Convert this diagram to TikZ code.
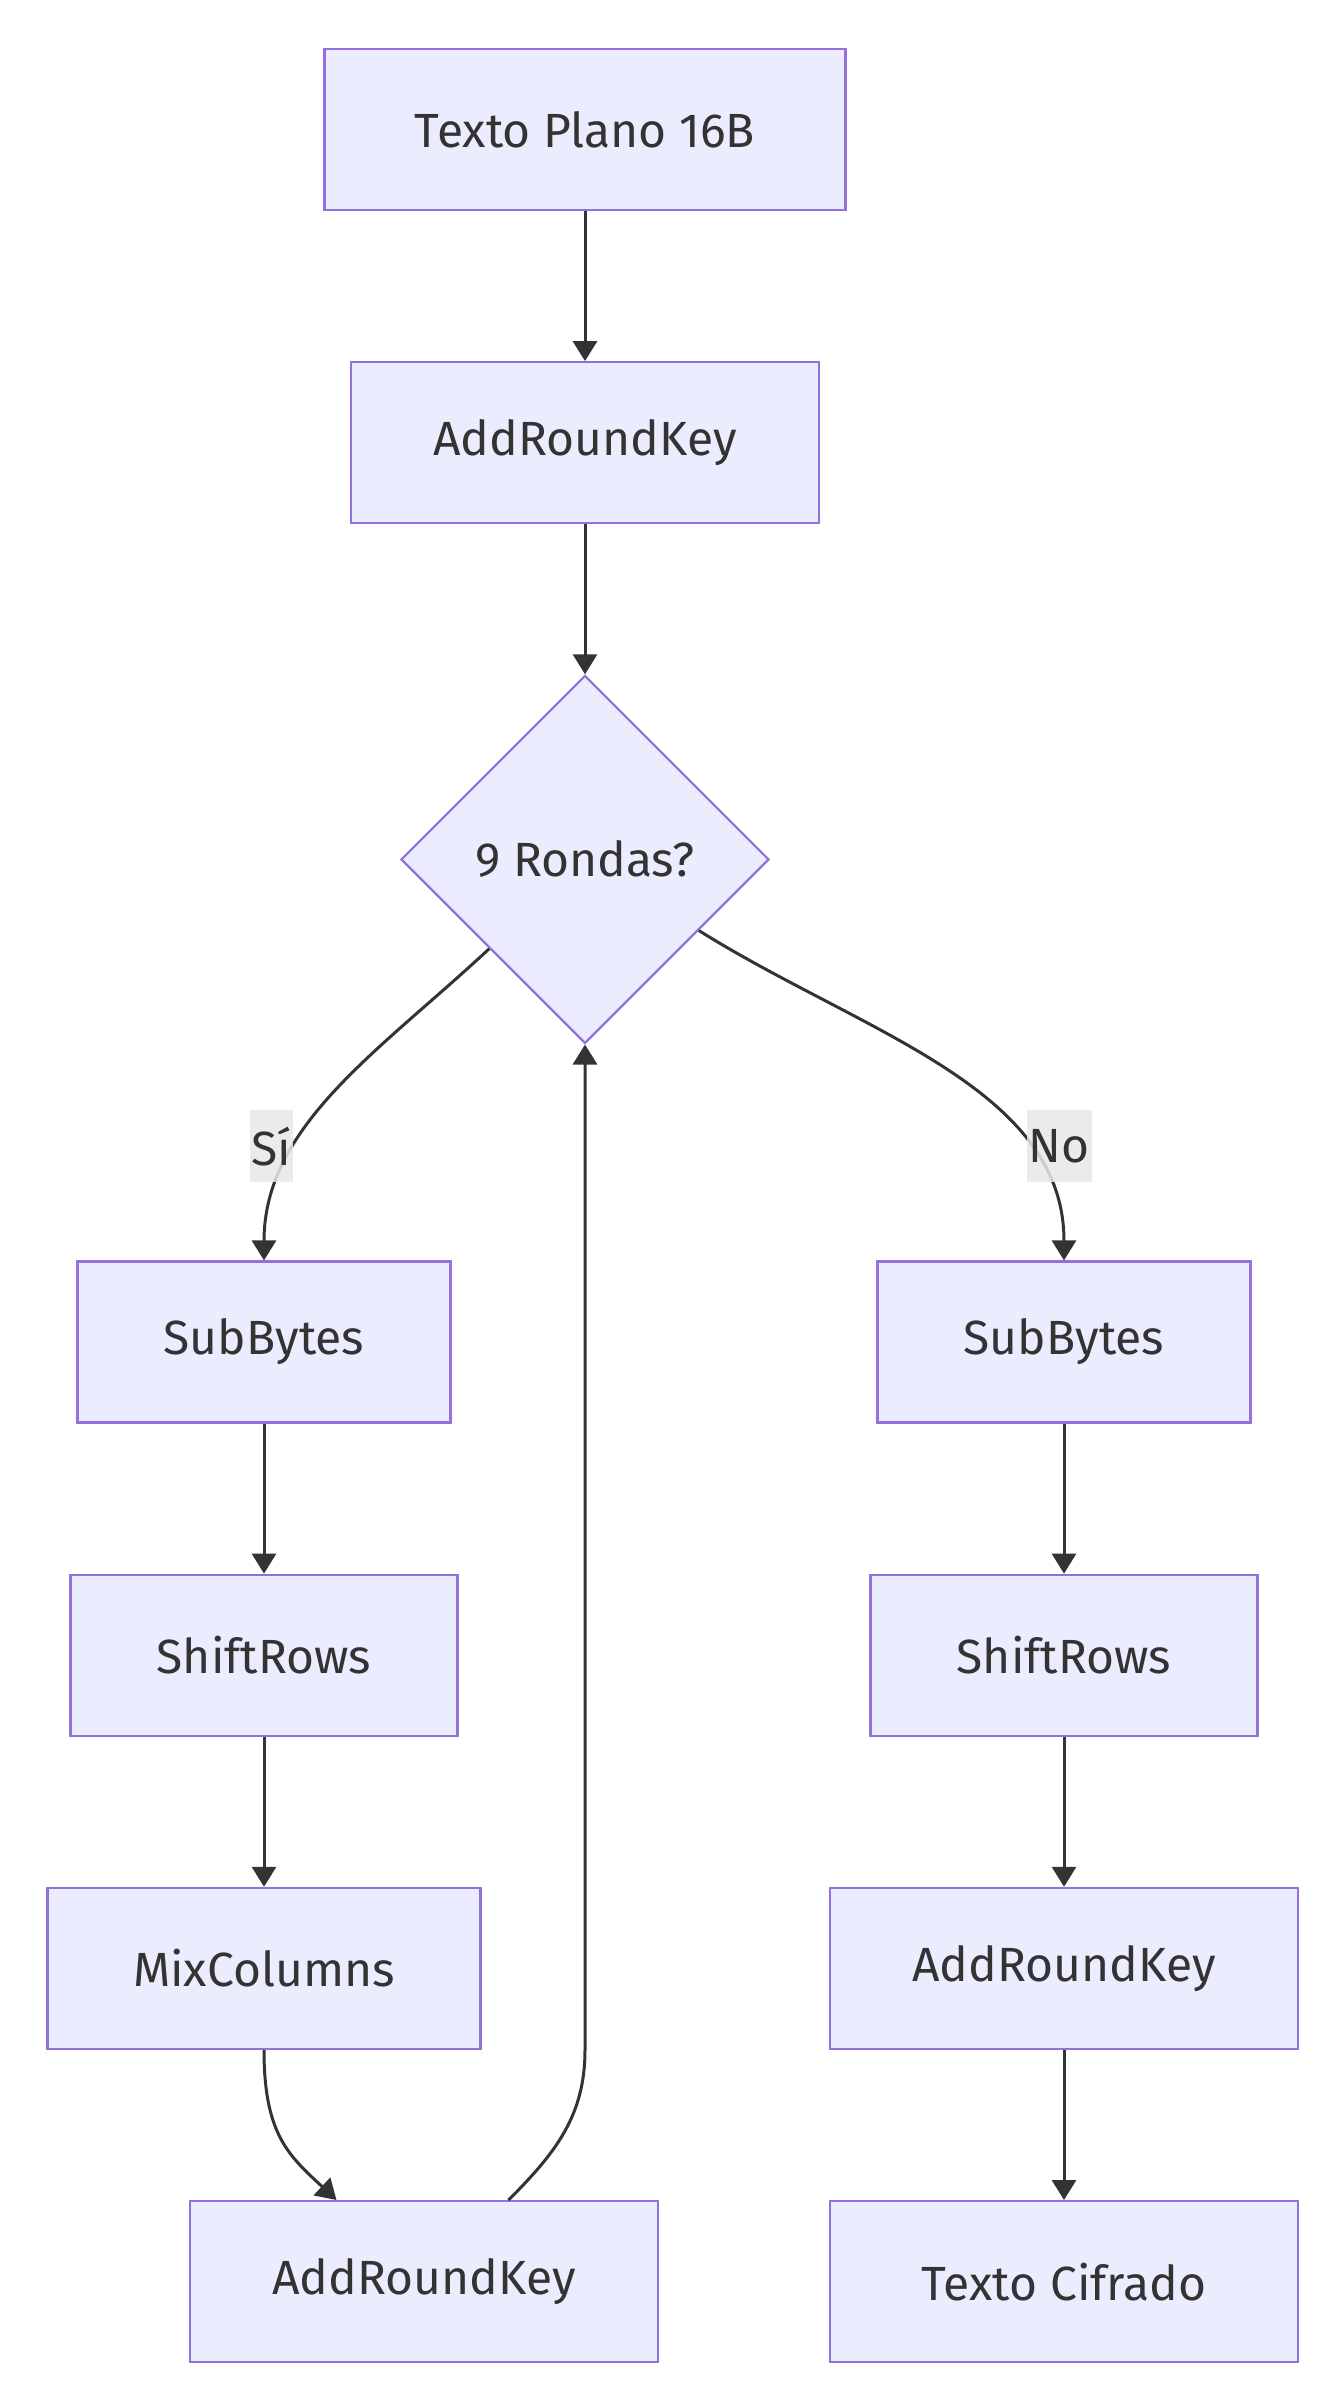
\documentclass[tikz,border=0pt]{standalone}
\usepackage{fontspec}
\setmainfont{Fira Sans}
\usepackage{tikz}
\usetikzlibrary{shapes.geometric, positioning, arrows.meta}
\definecolor{nodefill}{HTML}{ECECFF}
\definecolor{nodeline}{HTML}{9370DB}
\definecolor{ink}{HTML}{333333}
\definecolor{lblbg}{HTML}{E8E8E8}

\begin{document}
\begin{tikzpicture}[->, >={Triangle[length=10pt,width=12pt]}, x=0.5pt, y=-0.5pt, node distance=75pt, color=ink, line width=1.5pt]
\tikzstyle{block}=[draw=nodeline, fill=nodefill, line width=1.1pt, text=ink, rectangle, minimum height=80.5pt, inner sep=0pt, font=\fontsize{24}{29}\selectfont]
\tikzstyle{decision}=[draw=nodeline, fill=nodefill, line width=1.1pt, text=ink, diamond, minimum width=184pt, minimum height=184pt, aspect=1, inner sep=0pt, font=\fontsize{24}{29}\selectfont]
\tikzstyle{lbl}=[fill=lblbg, fill opacity=0.85, text opacity=1, inner xsep=1pt, inner ysep=0pt, minimum height=36pt, font=\fontsize{24}{29}\selectfont]

\useasboundingbox (0,0) rectangle (1322,2384);

\node[block, minimum width=260.5pt]   (plain) at (585,129.5) {Texto Plano 16B};
\node[block, minimum width=234pt]     (ark1)[below=of plain] {AddRoundKey};
\node[decision]                       (rounds)[below=of ark1] {9 Rondas?};

% rama de las 9 rondas
\node[block, minimum width=186.5pt]   (subL) at (264,1342) {SubBytes};
\node[block, minimum width=193.5pt]   (shiftL)[below=of subL] {ShiftRows};
\node[block, minimum width=216.5pt]   (mix)[below=of shiftL] {MixColumns};
\node[block, minimum width=234pt]     (arkL)[below=of mix, xshift=80pt] {AddRoundKey};

% ronda final
\node[block, minimum width=186.5pt]   (subR) at (1064,1342) {SubBytes};
\node[block, minimum width=193.5pt]   (shiftR)[below=of subR] {ShiftRows};
\node[block, minimum width=234pt]     (arkR)[below=of shiftR] {AddRoundKey};
\node[block, minimum width=234pt]     (cipher)[below=of arkR] {Texto Cifrado};

\path
(plain) edge (ark1)
(ark1) edge (rounds)

(rounds.-137) edge[out=-137, in=90, in looseness=0.9] node[lbl, pos=0.68, xshift=-12pt]{Sí} (subL.north)
(rounds.-32) edge[out=-32, in=90, in looseness=0.9] node[lbl, pos=0.74, xshift=16pt]{No} (subR.north)

(subL) edge (shiftL)
(shiftL) edge (mix)
(mix.south) edge[out=-90, in=137, out looseness=1.3] (arkL.137)

(subR) edge (shiftR)
(shiftR) edge (arkR)
(arkR) edge (cipher);

\draw (arkL.44) to[out=45, in=-90] (rounds.south |- mix.south) -- (rounds.south);

\end{tikzpicture}
\end{document}
